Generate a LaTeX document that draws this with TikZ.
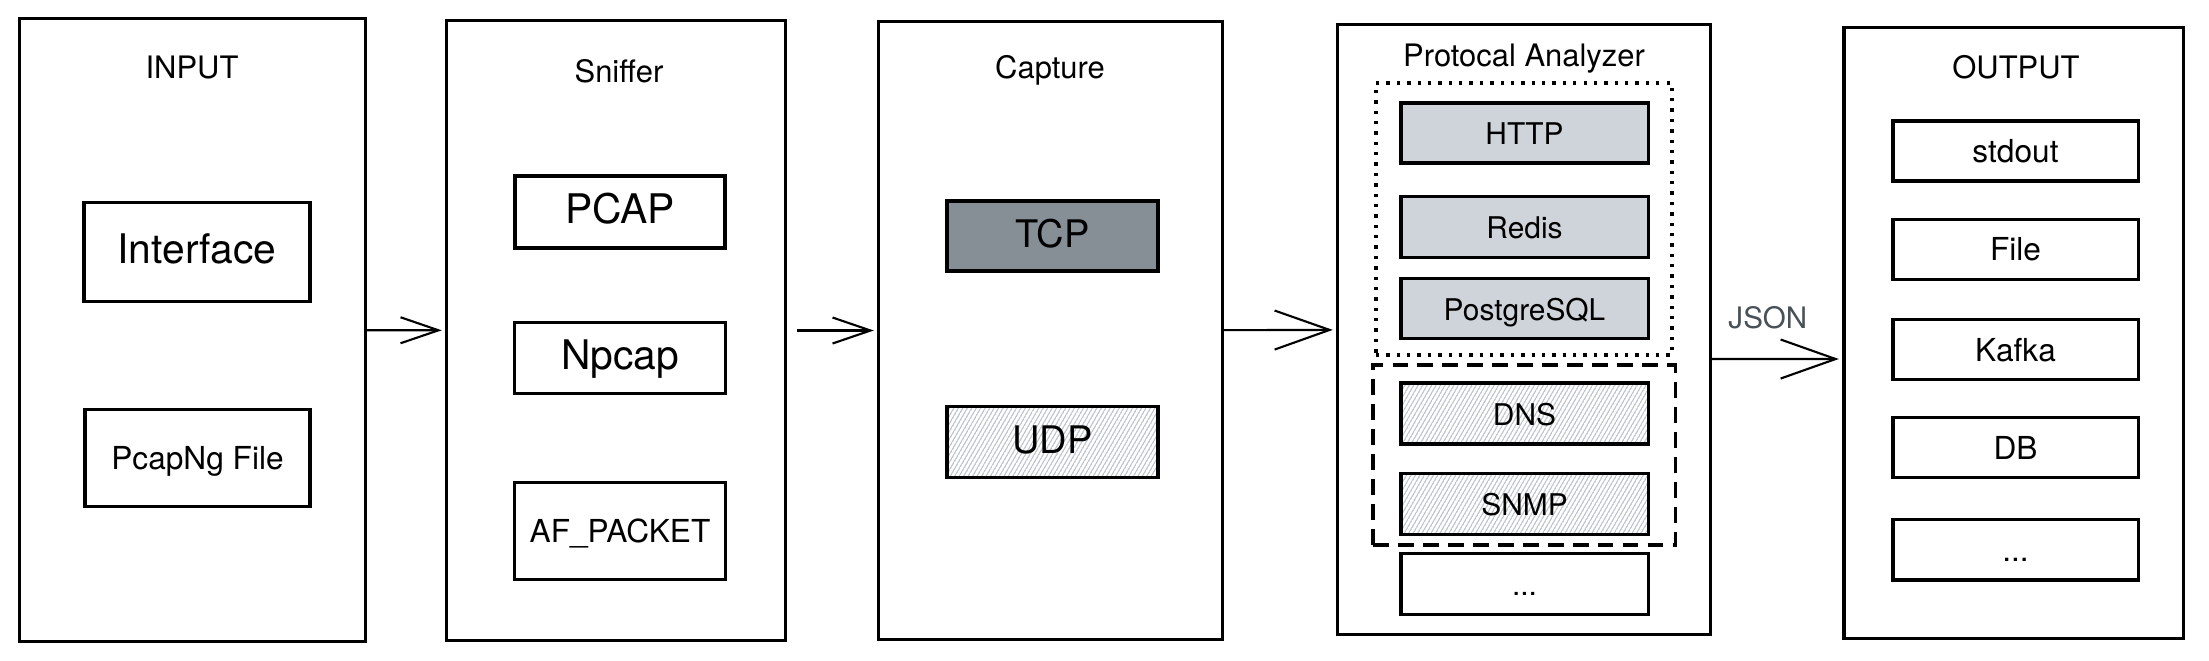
\documentclass[tikz,border=0pt]{standalone}
\usepackage{fontspec}
\setmainfont{TeX Gyre Heros}
\usetikzlibrary{arrows.meta,positioning,patterns.meta}

\definecolor{tcpgray}{HTML}{868E96}
\definecolor{protogray}{HTML}{CED4DA}
\definecolor{hatchgray}{HTML}{BFC5CC}
\definecolor{jsongray}{HTML}{495057}

% thin sloped strokes, like a hand filled box
\tikzdeclarepattern{
  name=hachure,
  type=uncolored,
  bounding box={(0pt,-0.2pt) and (1pt,0.2pt)},
  tile size={(1pt,1.1pt)},
  tile transformation={rotate=60},
  code={\pgfsetlinewidth{0.35pt}\pgfpathmoveto{\pgfpointorigin}\pgfpathlineto{\pgfpoint{1pt}{0pt}}\pgfusepath{stroke}}
}

\begin{document}
\begin{tikzpicture}[
    x = 0.01cm, y = -0.01cm, % one unit = one pixel of the sketch
    > = {Straight Barb[length=3.8mm,width=2.6mm]}, % arrow head style
    shorten > = 1pt, % don't touch arrow head to node
    semithick % line style
    ]

    \tikzset{
    stage/.style = {draw, line width=0.9pt, inner sep=0pt},
    title/.style = {inner sep=0pt, font=\fontsize{8.8}{10}\selectfont},
    item/.style = {draw, line width=0.9pt, fill=white, inner sep=0pt,
        text height=0.85em, text depth=0.19em,
        minimum width=2.11cm, minimum height=0.71cm,
        font=\fontsize{9}{11}\selectfont},
    bigtext/.style = {font=\fontsize{11.6}{14}\selectfont},
    proto/.style = {item, minimum width=2.47cm, minimum height=0.6cm,
        font=\fontsize{8.5}{10}\selectfont},
    sink/.style = {item, minimum width=2.45cm, minimum height=0.6cm},
    stream/.style = {fill=tcpgray},
    datagram/.style = {fill=none, pattern=hachure, pattern color=hatchgray},
    parsed/.style = {fill=protogray},
    big head/.style = {-{Straight Barb[length=5.5mm,width=3.9mm]}}
    }
    \useasboundingbox (0,0) rectangle (2209,660);

    % the five stages
    \node[stage, minimum width=3.45cm, minimum height=6.22cm] (input) at (192.5,330) {};
    \node[stage, minimum width=3.38cm, minimum height=6.19cm] (sniffer) at (616,330.5) {};
    \node[stage, minimum width=3.43cm, minimum height=6.17cm] (capture) at (1050.5,330.5) {};
    \node[stage, minimum width=3.72cm, minimum height=6.09cm] (analyzer) at (1524,329.5) {};
    \node[stage, minimum width=3.39cm, minimum height=6.10cm] (output) at (2013.5,333) {};

    \node[title] (inputT) at (192,67) {INPUT};
    \node[title] (snifferT) at (619,71) {Sniffer};
    \node[title] (captureT) at (1050,70) {Capture};
    \node[title] (analyzerT) at (1524,59) {Protocal Analyzer};
    \node[title] (outputT) at (2016,67) {OUTPUT};

    % input
    \node[item, bigtext, minimum width=2.26cm, minimum height=0.99cm] (iface) at (197,252) {Interface};
    \node[item, minimum width=2.25cm, minimum height=0.97cm] (pcapng) at (197.5,458) {PcapNg File};

    % sniffer
    \node[item, bigtext, minimum width=2.10cm, minimum height=0.72cm] (pcap) at (620,212) {PCAP};
    \node[item, bigtext] (npcap) [below=0.71cm of pcap] {Npcap};
    \node[item, minimum height=0.97cm] (afpacket) [below=0.86cm of npcap] {AF\_PACKET};

    % capture
    \node[item, stream, font=\fontsize{10.8}{13}\selectfont, minimum height=0.70cm] (tcp) at (1052.5,236) {TCP};
    \node[item, datagram, font=\fontsize{10.8}{13}\selectfont] (udp) [below=1.32cm of tcp] {UDP};

    % protocol analyzer
    \node[draw, line width=0.95pt, dash pattern=on 0.95pt off 2pt, minimum width=2.96cm, minimum height=2.72cm] (tcpgroup) at (1524,219) {};
    \node[draw, line width=0.9pt, dash pattern=on 4.5pt off 2.6pt, minimum width=3.02cm, minimum height=1.80cm] (udpgroup) at (1524,455) {};
    \node[proto, parsed] (http) at (1524.5,133) {HTTP};
    \node[proto, parsed, minimum height=0.61cm] (redis) [below=0.30cm of http] {Redis};
    \node[proto, parsed] (pg) [below=0.18cm of redis] {PostgreSQL};
    \node[proto, datagram, minimum height=0.61cm] (dns) at (1524.5,413.5) {DNS};
    \node[proto, datagram, minimum height=0.61cm] (snmp) [below=0.26cm of dns] {SNMP};
    \node[proto, minimum height=0.61cm] (more) [below=0.16cm of snmp] {...};

    % output
    \node[sink] (stdout) at (2015.5,151) {stdout};
    \node[sink] (file) [below=0.35cm of stdout] {File};
    \node[sink] (kafka) [below=0.37cm of file] {Kafka};
    \node[sink] (db) [below=0.35cm of kafka] {DB};
    \node[sink] (etc) [below=0.39cm of db] {...};

    \draw[->] (input) -- (sniffer);
    \draw[->, shorten <=3pt] (sniffer) -- (capture);
    \draw[big head] (capture) -- (analyzer);
    \draw[big head] ([yshift=-2.95mm]analyzer.east) -- node[pos=0.43, above=2.9mm, inner sep=0pt, text=jsongray, font=\fontsize{8.4}{10}\selectfont] (json) {JSON} ([yshift=-2.6mm]output.west);
\end{tikzpicture}
\end{document}
